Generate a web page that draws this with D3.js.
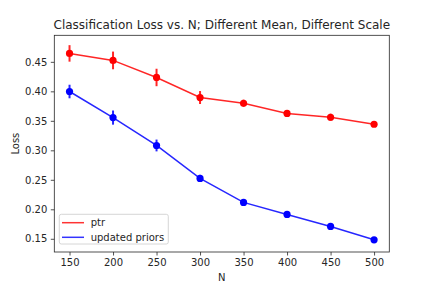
<!DOCTYPE html>
<html>
<head>
<meta charset="utf-8">
<script src="https://cdn.jsdelivr.net/npm/d3@7"></script>
<style>
  html, body { margin: 0; padding: 0; background: #fff; }
  svg { display: block; }
  text { font-family: "DejaVu Sans", sans-serif; fill: #262626; }
</style>
</head>
<body>
<svg id="chart" width="432" height="288"></svg>
<script>
const nValues = [150, 200, 250, 300, 350, 400, 450, 500];
const ptrLoss = [0.4643, 0.4524, 0.4235, 0.3895, 0.3798, 0.3625, 0.3561, 0.3442];
const ptrErr = [0.014, 0.015, 0.0148, 0.011, 0.006, 0.004, 0.006, 0.004];
const updatedLoss = [0.3997, 0.3555, 0.3082, 0.2524, 0.2117, 0.1913, 0.1709, 0.1483];
const updatedErr = [0.0115, 0.012, 0.010, 0.006, 0.004, 0.004, 0.004, 0.004];
const xTicks = [150, 200, 250, 300, 350, 400, 450, 500];
const yTicks = [0.15, 0.20, 0.25, 0.30, 0.35, 0.40, 0.45];
const seriesNames = ["ptr", "updated priors"];
const seriesColors = ["#ff0000", "#0000ff"];

const series = [
  { name: seriesNames[0], color: seriesColors[0], values: ptrLoss, errs: ptrErr },
  { name: seriesNames[1], color: seriesColors[1], values: updatedLoss, errs: updatedErr }
];

const mLeft = 54.3, mRight = 389.3, mTop = 35.3, mBottom = 252;
const svg = d3.select("#chart");

// domains with 5% margins like matplotlib
const allLo = series.flatMap(s => s.values.map((v, i) => v - s.errs[i]));
const allHi = series.flatMap(s => s.values.map((v, i) => v + s.errs[i]));
const yMin = d3.min(allLo), yMax = d3.max(allHi);
const yPad = (yMax - yMin) * 0.05;
const xMin = d3.min(nValues), xMax = d3.max(nValues);
const xPad = (xMax - xMin) * 0.05;

const x = d3.scaleLinear().domain([xMin - xPad, xMax + xPad]).range([mLeft, mRight]);
const y = d3.scaleLinear().domain([yMin - yPad, yMax + yPad]).range([mBottom, mTop]);

// axes
const xAxis = d3.axisBottom(x).tickValues(xTicks).tickFormat(d3.format("d")).tickSize(3.5).tickPadding(3.5);
const yAxis = d3.axisLeft(y).tickValues(yTicks).tickFormat(d3.format(".2f")).tickSize(3.5).tickPadding(3.5);

const gx = svg.append("g").attr("transform", `translate(0,${mBottom})`).call(xAxis);
const gy = svg.append("g").attr("transform", `translate(${mLeft},0)`).call(yAxis);
[gx, gy].forEach(g => {
  g.select(".domain").remove();
  g.selectAll(".tick line").attr("stroke", "#262626").attr("stroke-width", 0.8);
  g.selectAll(".tick text").attr("font-size", 10).style("font-family", "DejaVu Sans").attr("fill", "#262626");
});

// series
const plot = svg.append("g");
series.forEach(s => {
  const pts = nValues.map((n, i) => ({ n, v: s.values[i], e: s.errs[i] }));
  plot.append("path")
    .datum(pts)
    .attr("fill", "none")
    .attr("stroke", s.color)
    .attr("stroke-opacity", 0.85)
    .attr("stroke-width", 1.5)
    .attr("d", d3.line().x(d => x(d.n)).y(d => y(d.v)));
  plot.selectAll(null).data(pts).enter().append("line")
    .attr("x1", d => x(d.n)).attr("x2", d => x(d.n))
    .attr("y1", d => y(d.v - d.e)).attr("y2", d => y(d.v + d.e))
    .attr("stroke", s.color).attr("stroke-opacity", 0.85).attr("stroke-width", 2);
  plot.selectAll(null).data(pts).enter().append("circle")
    .attr("cx", d => x(d.n)).attr("cy", d => y(d.v))
    .attr("r", 3.6)
    .attr("fill", s.color);
});

// frame
svg.append("rect")
  .attr("x", mLeft).attr("y", mTop)
  .attr("width", mRight - mLeft).attr("height", mBottom - mTop)
  .attr("fill", "none").attr("stroke", "#262626").attr("stroke-width", 0.8);

// title and labels
svg.append("text").attr("x", (mLeft + mRight) / 2).attr("y", 29)
  .attr("text-anchor", "middle").attr("font-size", 12)
  .text("Classification Loss vs. N; Different Mean, Different Scale");
svg.append("text").attr("x", (mLeft + mRight) / 2).attr("y", 281)
  .attr("text-anchor", "middle").attr("font-size", 10).text("N");
svg.append("text")
  .attr("transform", `translate(19,${(mTop + mBottom) / 2}) rotate(-90)`)
  .attr("text-anchor", "middle").attr("font-size", 10).text("Loss");

// legend
const lg = svg.append("g");
lg.append("rect").attr("x", 59.3).attr("y", 214.3).attr("width", 109).attr("height", 29.7)
  .attr("rx", 2).attr("fill", "#fff").attr("fill-opacity", 0.8)
  .attr("stroke", "#cccccc").attr("stroke-width", 0.8);
series.forEach((s, i) => {
  const yy = 222.7 + i * 14.6;
  lg.append("line").attr("x1", 62).attr("x2", 84).attr("y1", yy).attr("y2", yy)
    .attr("stroke", s.color).attr("stroke-opacity", 0.8).attr("stroke-width", 1.5);
  lg.append("text").attr("x", 90.7).attr("y", yy + 3.6).attr("font-size", 10).text(s.name);
});
</script>
</body>
</html>
